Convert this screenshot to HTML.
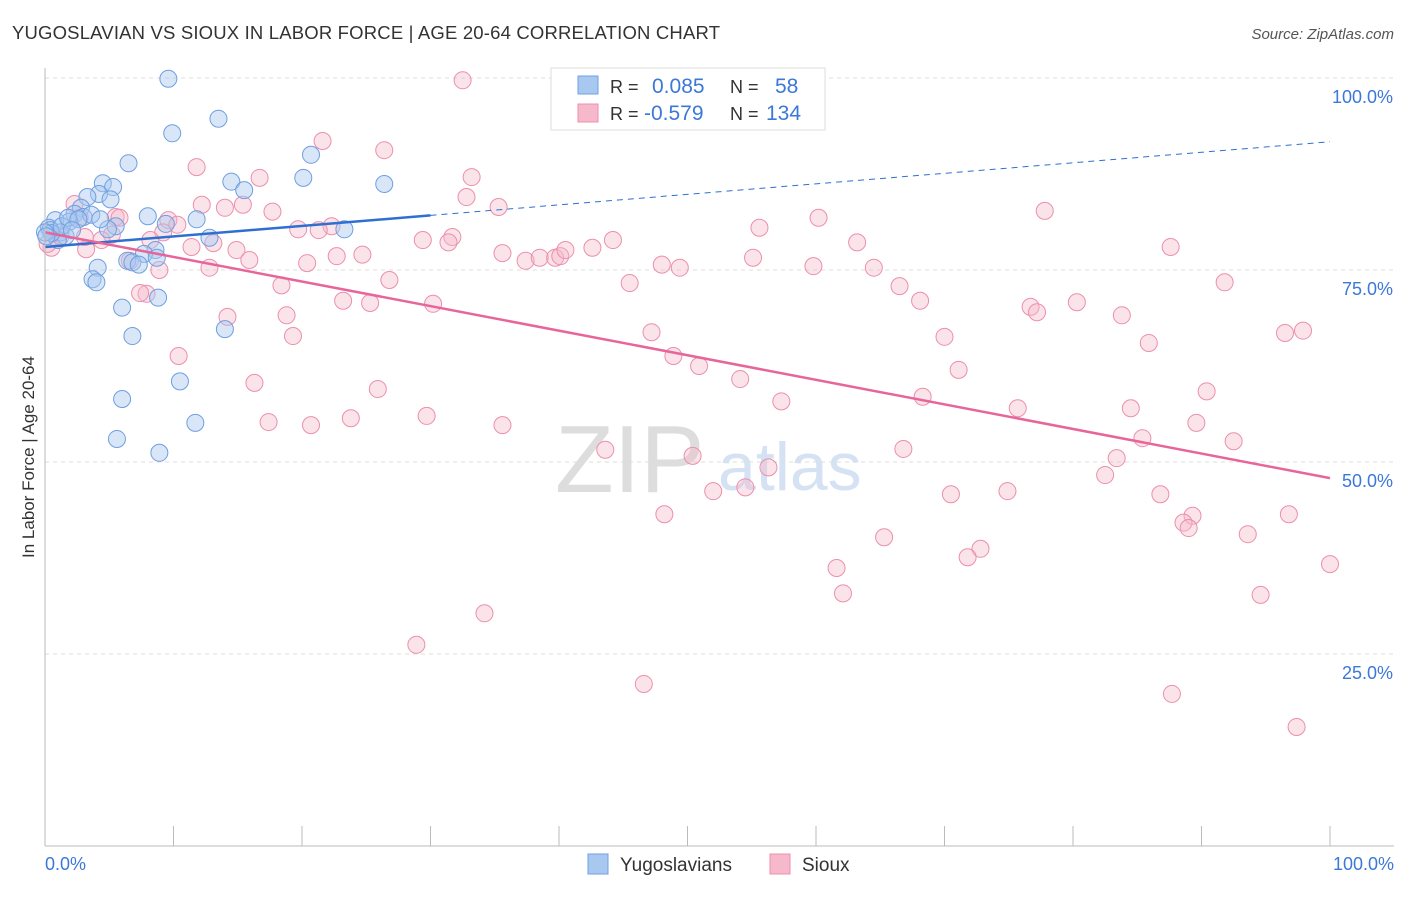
<!DOCTYPE html>
<html><head><meta charset="utf-8"><style>
body{margin:0;background:#fff;font-family:"Liberation Sans",sans-serif;}
svg text{font-family:"Liberation Sans",sans-serif;}
</style></head><body>
<svg id="chart" width="1406" height="892" xmlns="http://www.w3.org/2000/svg">
<text x="12" y="39" font-size="18.5" fill="#333" textLength="708">YUGOSLAVIAN VS SIOUX IN LABOR FORCE | AGE 20-64 CORRELATION CHART</text>
<text x="1394" y="39" font-size="15" fill="#555" font-style="italic" text-anchor="end">Source: ZipAtlas.com</text>
<text x="34" y="457" font-size="17" fill="#333" text-anchor="middle" transform="rotate(-90 34 457)">In Labor Force | Age 20-64</text>
<text x="555" y="492" font-size="96" fill="#ddd" font-family="Liberation Serif">ZIP</text>
<text x="718" y="490" font-size="68" fill="#d5e2f3">atlas</text>
<g id="grid"></g><g id="pts"></g><g id="lines"></g>
<line x1="45" y1="68" x2="45" y2="846" stroke="#bbb"/>
<line x1="45" y1="846" x2="1394" y2="846" stroke="#bbb"/>
<text x="45" y="870" font-size="18" fill="#3b78d8">0.0%</text>
<text x="1394" y="870" font-size="18" fill="#3b78d8" text-anchor="end">100.0%</text>
<g>
<rect x="551" y="68" width="274" height="62" fill="#fff" stroke="#ddd"/>
<rect x="578" y="76" width="20" height="18" fill="#a9c8f0" stroke="#6f9fe0"/>
<rect x="578" y="104" width="20" height="18" fill="#f6b8cb" stroke="#ec8fad"/>
<text x="610" y="93" font-size="18" fill="#333">R =</text><text x="652" y="93" font-size="21" fill="#3b78d8">0.085</text>
<text x="730" y="93" font-size="18" fill="#333">N =</text><text x="775" y="93" font-size="21" fill="#3b78d8">58</text>
<text x="610" y="120" font-size="18" fill="#333">R =</text><text x="644" y="120" font-size="21" fill="#3b78d8">-0.579</text>
<text x="730" y="120" font-size="18" fill="#333">N =</text><text x="766" y="120" font-size="21" fill="#3b78d8">134</text>
</g>
<g><rect x="588" y="854" width="20" height="20" fill="#a9c8f0" stroke="#6f9fe0"/><text x="620" y="871" font-size="19" fill="#333">Yugoslavians</text></g>
<g><rect x="770" y="854" width="20" height="20" fill="#f6b8cb" stroke="#ec8fad"/><text x="802" y="871" font-size="19" fill="#333">Sioux</text></g>
</svg>
<script>
const yTicks=[25,50,75,100];
const yugoPx=[[168,79],[172,133],[219,119],[128,163],[311,155],[303,178],[384,184],[231,182],[244,190],[103,183],[113,187],[99,194],[110,199],[87,197],[81,208],[75,214],[84,217],[91,215],[70,222],[55,220],[49,228],[60,232],[65,236],[58,240],[148,216],[197,219],[166,224],[116,226],[108,229],[344,229],[209,238],[155,250],[144,254],[127,261],[133,262],[139,265],[157,258],[98,268],[93,279],[96,282],[158,298],[122,308],[132,336],[225,329],[180,381],[122,399],[195,423],[117,439],[160,453],[50,230],[52,233],[62,226],[68,218],[78,219],[72,230],[45,232],[100,219],[46,236]];
const siouxPx=[[462,80],[322,141],[384,150],[197,167],[260,178],[472,177],[466,197],[498,207],[243,205],[202,205],[225,208],[273,212],[116,217],[169,220],[177,225],[74,204],[163,232],[332,226],[298,229],[319,230],[423,240],[452,237],[448,242],[213,243],[191,247],[237,250],[150,240],[86,249],[112,235],[102,240],[130,261],[159,270],[249,260],[307,263],[337,256],[363,255],[502,253],[525,261],[540,258],[555,258],[560,256],[566,250],[592,248],[613,240],[662,265],[680,268],[753,258],[813,266],[874,268],[760,228],[819,218],[857,242],[1045,211],[1171,247],[1225,282],[630,283],[899,286],[920,301],[1031,307],[1037,312],[1077,302],[1122,315],[1149,343],[1285,333],[1303,331],[944,337],[958,370],[652,332],[673,356],[699,366],[740,379],[781,401],[923,397],[1018,408],[1131,408],[1206,391],[1197,423],[1233,441],[1143,438],[1117,458],[1105,475],[768,467],[692,456],[605,450],[745,487],[713,491],[951,494],[1008,491],[1161,494],[1193,516],[1184,523],[1189,528],[1289,514],[1248,534],[1330,564],[1260,595],[981,549],[967,557],[884,537],[837,568],[843,593],[665,514],[485,613],[417,645],[644,684],[1172,694],[1296,727],[903,449],[503,425],[427,416],[351,418],[311,425],[269,422],[378,389],[255,383],[179,356],[293,336],[228,317],[286,315],[281,285],[343,301],[370,303],[390,280],[433,304],[146,294],[140,293],[210,268],[52,248],[48,244],[60,236],[85,237],[120,218],[80,218]];
const toData=p=>[+((p[0]-45)/12.85).toFixed(1),+((846-p[1])/7.68).toFixed(1)];
const yugoData=yugoPx.map(toData);
const siouxData=siouxPx.map(toData);
const yugoTrend=[78.0,91.7];
const siouxTrend=[79.9,47.9];
const X=v=>45+v*12.85, Y=v=>846-v*7.68;
const NS='http://www.w3.org/2000/svg';
function mk(t,a,parent){const e=document.createElementNS(NS,t);for(const k in a)e.setAttribute(k,a[k]);document.getElementById(parent).appendChild(e);return e;}
yTicks.forEach(t=>{
 const l=mk('line',{x1:45,x2:1394,y1:Y(t),y2:Y(t),stroke:'#ddd','stroke-dasharray':'4,4'},'grid');
 
 
 const tx=mk('text',{x:1393,y:Y(t)+25,'font-size':18,fill:'#3b78d8','text-anchor':'end'},'grid');
 tx.textContent=t.toFixed(1)+'%';
 
 
});
for(let i=0;i<=10;i++){
 const l=mk('line',{x1:X(i*10),x2:X(i*10),y1:826,y2:846,stroke:'#bbb'},'grid');
 
 
}
siouxData.forEach(d=>{
 const c=mk('circle',{cx:X(d[0]),cy:Y(d[1]),r:8.5,fill:'#f6b8cb','fill-opacity':0.4,stroke:'#ec8fad','stroke-width':1},'pts');
 
 
});
yugoData.forEach(d=>{
 const c=mk('circle',{cx:X(d[0]),cy:Y(d[1]),r:8.5,fill:'#a9c8f0','fill-opacity':0.45,stroke:'#6f9fe0','stroke-width':1},'pts');
 
 
});
const ym=(yugoTrend[1]-yugoTrend[0])/100, yAt=x=>yugoTrend[0]+ym*x;
let l1=mk('line',{x1:X(0),y1:Y(yAt(0)),x2:X(30),y2:Y(yAt(30)),stroke:'#2f6fd0','stroke-width':2.5},'lines');


let l2=mk('line',{x1:X(30),y1:Y(yAt(30)),x2:X(100),y2:Y(yAt(100)),stroke:'#2f6fd0','stroke-width':1,'stroke-dasharray':'6,5'},'lines');


let l3=mk('line',{x1:X(0),y1:Y(siouxTrend[0]),x2:X(100),y2:Y(siouxTrend[1]),stroke:'#e8659a','stroke-width':2.5},'lines');


</script>
</body></html>
